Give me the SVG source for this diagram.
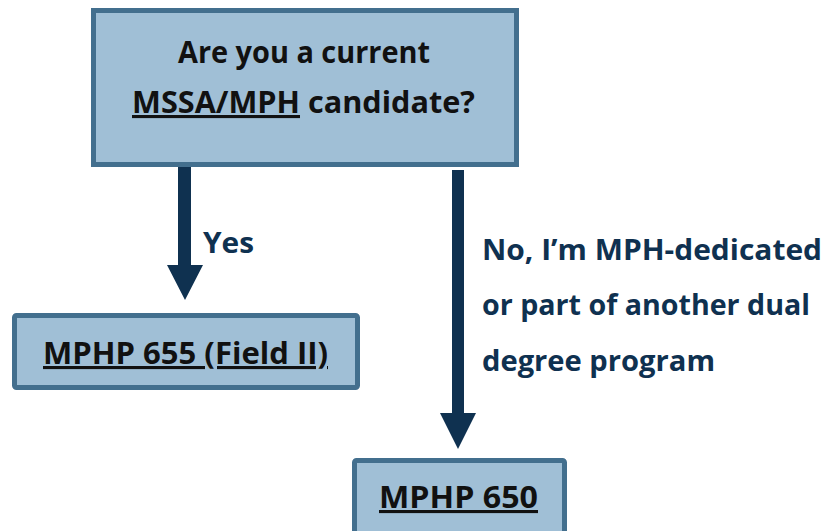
<svg xmlns="http://www.w3.org/2000/svg" width="833" height="531" viewBox="0 0 833 531">
<style>
.box{fill:#a0bfd6;stroke:#436f8e;stroke-width:5}
.t{font-family:"Open Sans","Liberation Sans",sans-serif;font-weight:bold;font-size:31px;fill:#111}
.lbl{font-family:"Open Sans","Liberation Sans",sans-serif;font-weight:bold;font-size:29px;fill:#0f3150}
.u{text-decoration:underline;text-decoration-skip-ink:none}
.shaft{fill:#0f3150}
</style>
<rect width="833" height="531" fill="#fff"/>
<g id="q">
<rect class="box" x="93.5" y="10.5" width="423" height="154"/>
<text class="t" x="304" y="63" text-anchor="middle" textLength="252" lengthAdjust="spacingAndGlyphs">Are you a current</text>
<text class="t" x="303.5" y="113" text-anchor="middle" textLength="343" lengthAdjust="spacingAndGlyphs"><tspan class="u">MSSA/MPH</tspan> candidate?</text>
</g>
<g id="n655">
<rect class="box" x="14.5" y="315.5" width="343" height="72" rx="2"/>
<text class="t u" x="185.5" y="364" text-anchor="middle" textLength="285" lengthAdjust="spacingAndGlyphs">MPHP 655 (Field II)</text>
</g>
<g id="n650">
<rect class="box" x="354.5" y="460.5" width="210" height="80" rx="2"/>
<text class="t u" x="458.5" y="508" text-anchor="middle" textLength="159" lengthAdjust="spacingAndGlyphs">MPHP 650</text>
</g>
<g id="connectors">
<polygon class="shaft" points="178,167 191,167 191,265 203,265 185,300 167,265 178,265"/>
<polygon class="shaft" points="452,170 464,170 464,413 476,413 458,449 440,413 452,413"/>
<text class="lbl" x="203" y="253" textLength="51" lengthAdjust="spacingAndGlyphs">Yes</text>
<text class="lbl" x="482" y="260" textLength="340" lengthAdjust="spacingAndGlyphs">No, I’m MPH-dedicated</text>
<text class="lbl" x="482" y="315" textLength="328" lengthAdjust="spacingAndGlyphs">or part of another dual</text>
<text class="lbl" x="482" y="371" textLength="233" lengthAdjust="spacingAndGlyphs">degree program</text>
</g>
</svg>
